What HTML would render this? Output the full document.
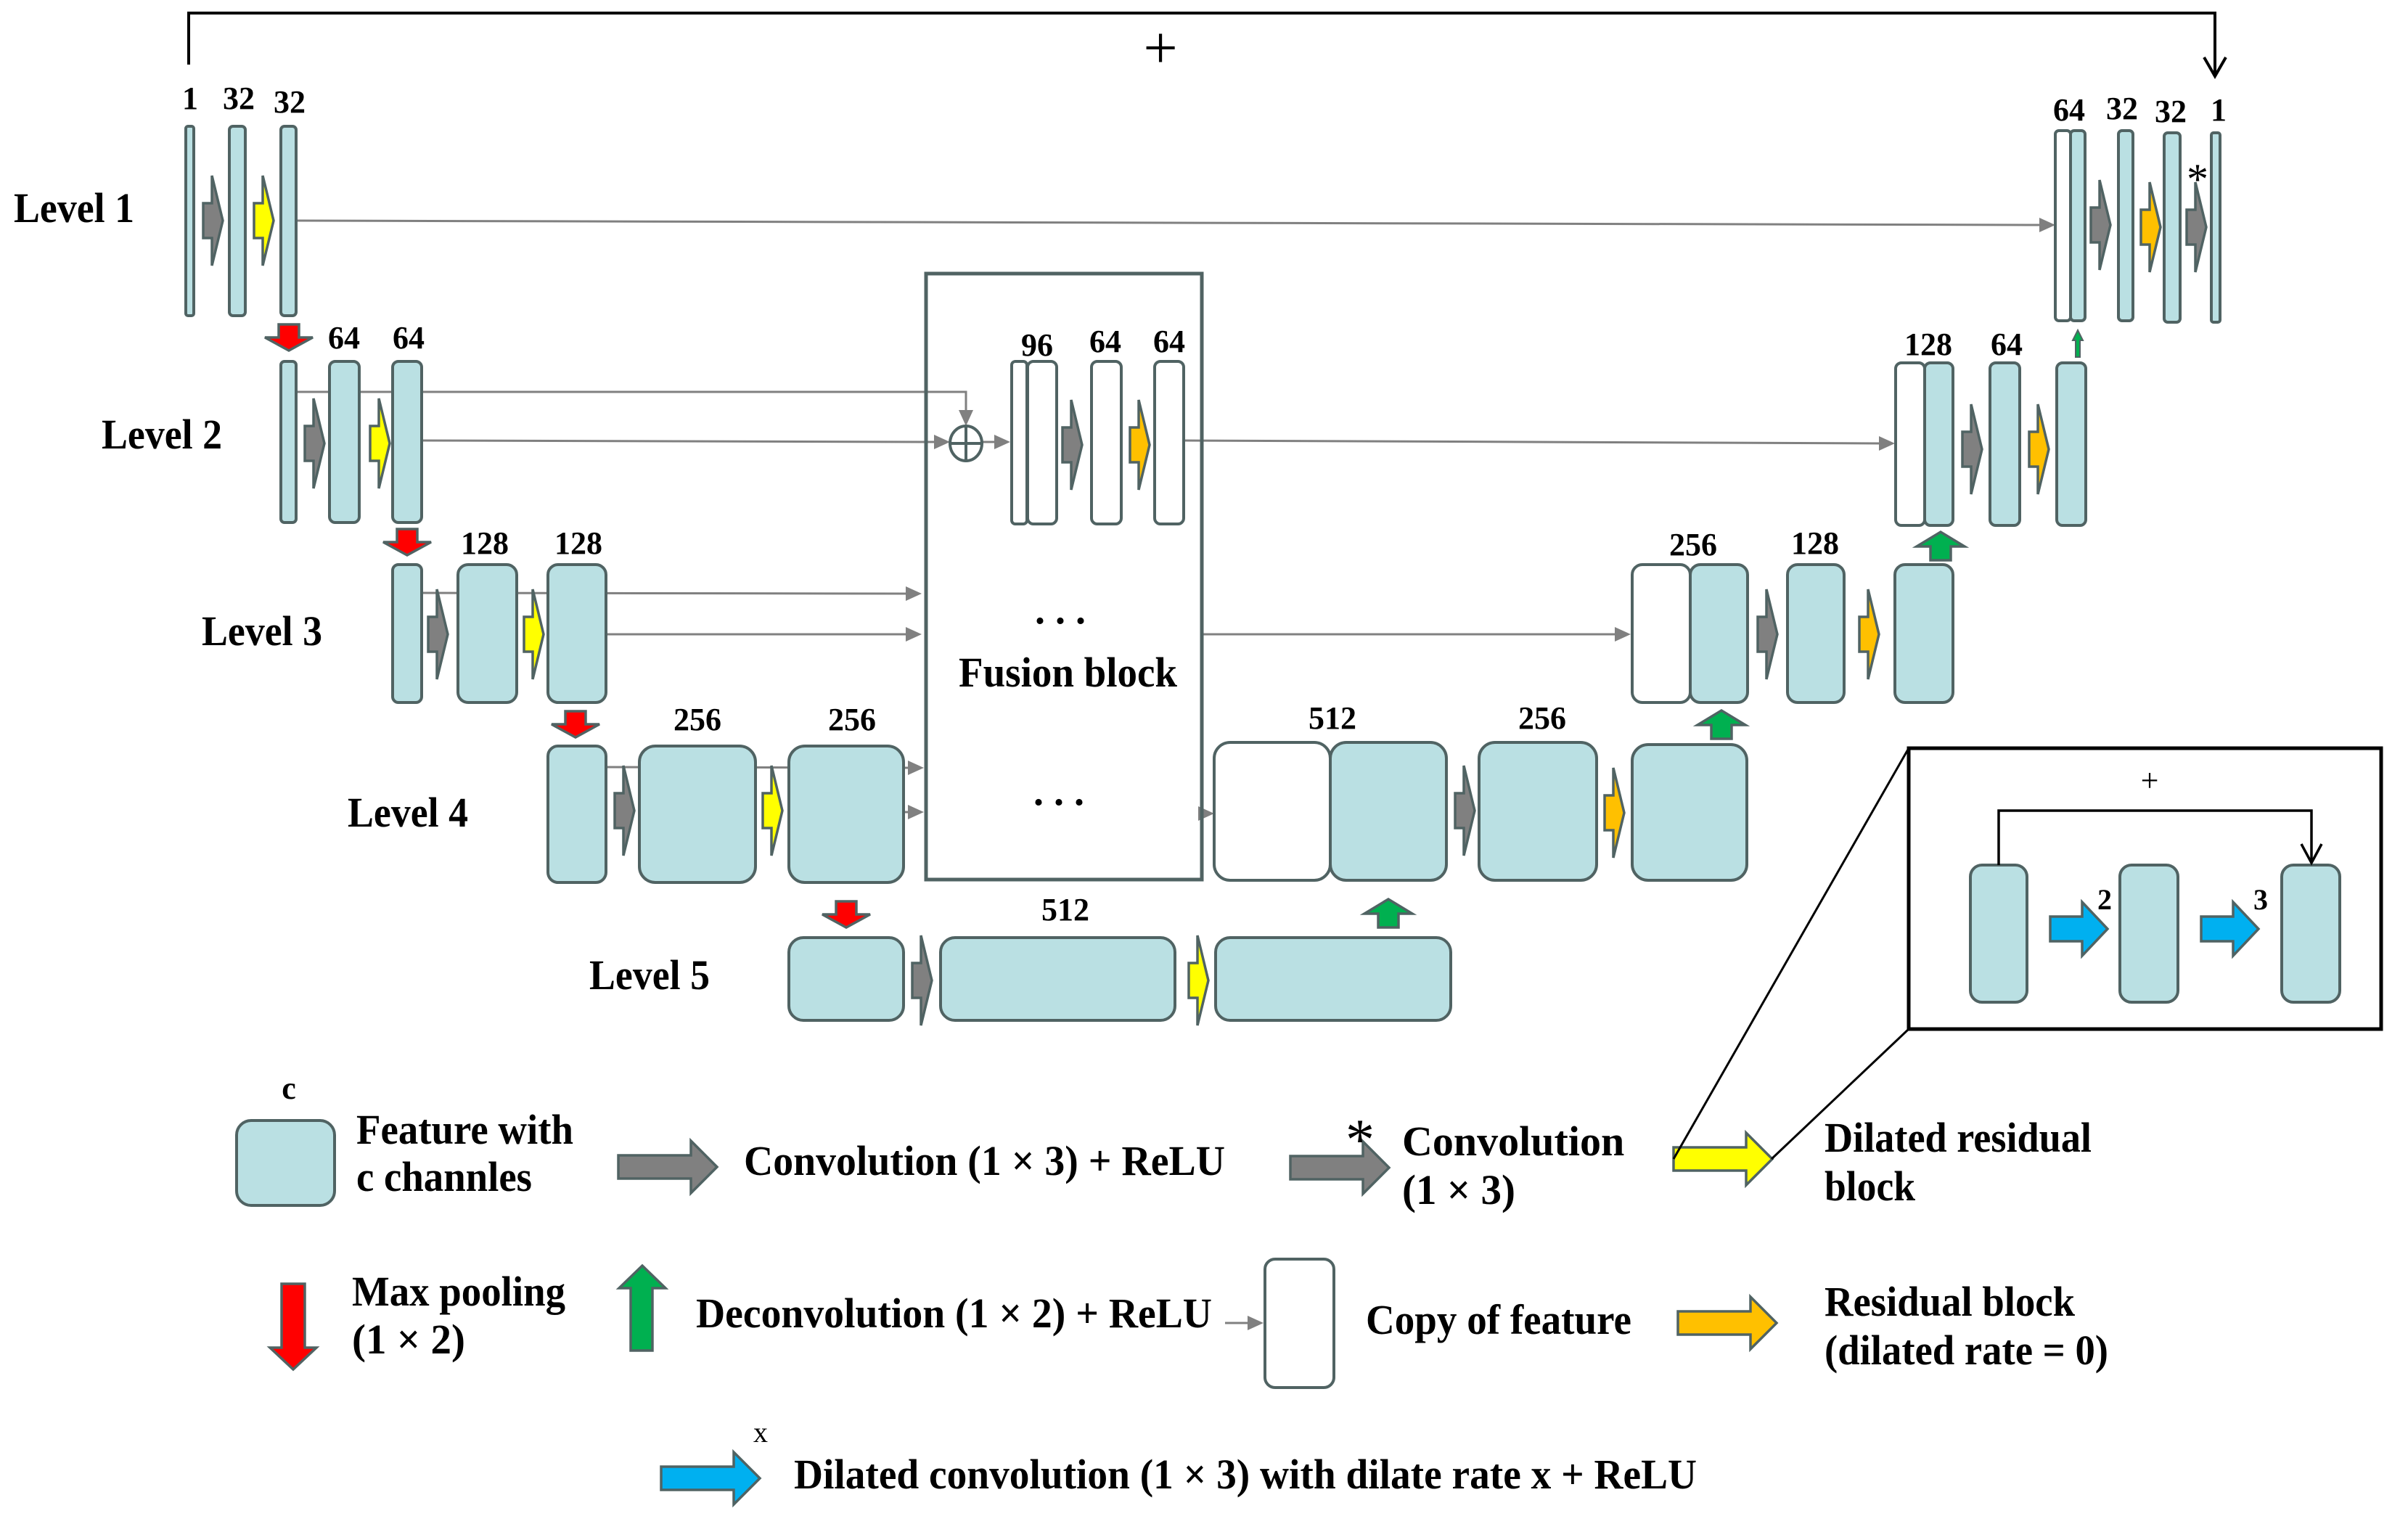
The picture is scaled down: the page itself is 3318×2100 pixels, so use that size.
<!DOCTYPE html>
<html><head><meta charset="utf-8">
<style>
html,body{margin:0;padding:0;background:#fff;}
svg{display:block;}
text{font-family:"Liberation Serif",serif;font-weight:bold;fill:#000;}
</style></head>
<body>
<svg width="3318" height="2100" viewBox="0 0 3318 2100" xmlns="http://www.w3.org/2000/svg">
<defs>
<path id="sa" d="M0,-24H12V-62L27,0L12,62V24H0Z"/>
<path id="dn" d="M-14,0H14V18H33L0,36L-33,18H-14Z"/>
<path id="up" d="M-14,0V-19H-33L0,-39L33,-19H14V0Z"/>
<path id="ba" d="M0,-16H100V-36L136,0L100,36V16H0Z"/>
<path id="bl" d="M0,-17H44V-37L79,0L44,37V17H0Z"/>
<path id="ah" d="M0,0L-22,-10L-22,10Z"/>
</defs>

<!-- top skip -->
<polyline points="260,89 260,18 3052,18 3052,105" fill="none" stroke="#000" stroke-width="4"/>
<polyline points="3037,79 3052,105 3067,79" fill="none" stroke="#000" stroke-width="4"/>
<text x="1599" y="94" font-size="84" text-anchor="middle" style="font-weight:normal">+</text>

<!-- gray connector lines -->
<g stroke="#808080" stroke-width="3" fill="none">
<line x1="408" y1="304" x2="2812" y2="310"/>
<polyline points="408,540 1331,540 1331,567"/>
<line x1="581" y1="607" x2="1290" y2="609"/>
<line x1="1353" y1="609" x2="1372" y2="609"/>
<line x1="1631" y1="607" x2="2591" y2="611"/>
<line x1="581" y1="817" x2="1250" y2="818"/>
<line x1="835" y1="874" x2="1250" y2="874"/>
<line x1="1656" y1="874" x2="2227" y2="874"/>
<line x1="835" y1="1057" x2="1253" y2="1058"/>
<line x1="1245" y1="1119" x2="1253" y2="1119"/>
<line x1="1688" y1="1823" x2="1721" y2="1823"/>
</g>
<g fill="#808080">
<use href="#ah" transform="translate(2832,310)"/>
<use href="#ah" transform="translate(1331,587) rotate(90)"/>
<use href="#ah" transform="translate(1309,609)"/>
<use href="#ah" transform="translate(1392,609)"/>
<use href="#ah" transform="translate(2611,611)"/>
<use href="#ah" transform="translate(1270,818)"/>
<use href="#ah" transform="translate(1270,874)"/>
<use href="#ah" transform="translate(2247,874)"/>
<use href="#ah" transform="translate(1273,1058)"/>
<use href="#ah" transform="translate(1273,1119)"/>
<use href="#ah" transform="translate(1673,1121)"/>
<use href="#ah" transform="translate(1741,1823)"/>
</g>
<!-- circle plus -->
<g stroke="#506363" stroke-width="4" fill="none">
<ellipse cx="1331" cy="611" rx="22" ry="24"/>
<line x1="1309" y1="611" x2="1353" y2="611"/>
<line x1="1331" y1="587" x2="1331" y2="635"/>
</g>

<!-- fusion block -->
<rect x="1276" y="377" width="380" height="835" fill="none" stroke="#506363" stroke-width="5"/>

<!-- teal feature bars -->
<g fill="#bae0e3" stroke="#506363" stroke-width="4">
<rect x="256" y="174" width="11" height="261" rx="3"/>
<rect x="316" y="174" width="22" height="261" rx="5"/>
<rect x="387" y="174" width="21" height="261" rx="5"/>
<rect x="387" y="498" width="21" height="222" rx="5"/>
<rect x="454" y="498" width="41" height="222" rx="8"/>
<rect x="541" y="498" width="40" height="222" rx="8"/>
<rect x="541" y="778" width="40" height="190" rx="8"/>
<rect x="631" y="778" width="81" height="190" rx="14"/>
<rect x="755" y="778" width="80" height="190" rx="14"/>
<rect x="755" y="1028" width="80" height="188" rx="14"/>
<rect x="881" y="1028" width="160" height="188" rx="22"/>
<rect x="1087" y="1028" width="158" height="188" rx="22"/>
<rect x="1087" y="1292" width="158" height="114" rx="20"/>
<rect x="1296" y="1292" width="323" height="114" rx="20"/>
<rect x="1675" y="1292" width="324" height="114" rx="20"/>
<rect x="1833" y="1023" width="160" height="190" rx="22"/>
<rect x="2038" y="1023" width="162" height="190" rx="22"/>
<rect x="2249" y="1026" width="158" height="187" rx="22"/>
<rect x="2329" y="778" width="79" height="190" rx="14"/>
<rect x="2463" y="778" width="78" height="190" rx="14"/>
<rect x="2611" y="778" width="80" height="190" rx="14"/>
<rect x="2652" y="500" width="39" height="224" rx="8"/>
<rect x="2742" y="500" width="41" height="224" rx="8"/>
<rect x="2834" y="500" width="40" height="224" rx="8"/>
<rect x="2853" y="180" width="20" height="262" rx="5"/>
<rect x="2919" y="180" width="20" height="262" rx="5"/>
<rect x="2982" y="183" width="22" height="261" rx="5"/>
<rect x="3047" y="183" width="12" height="261" rx="3"/>
<rect x="2715" y="1192" width="78" height="189" rx="16"/>
<rect x="2921" y="1192" width="80" height="189" rx="16"/>
<rect x="3144" y="1192" width="80" height="189" rx="16"/>
<rect x="326" y="1544" width="135" height="117" rx="20"/>
</g>
<!-- white copies -->
<g fill="#fff" stroke="#506363" stroke-width="4">
<rect x="1394" y="498" width="21" height="224" rx="5"/>
<rect x="1416" y="498" width="40" height="224" rx="8"/>
<rect x="1504" y="498" width="41" height="224" rx="8"/>
<rect x="1591" y="498" width="40" height="224" rx="8"/>
<rect x="1673" y="1023" width="160" height="190" rx="22"/>
<rect x="2249" y="778" width="80" height="190" rx="14"/>
<rect x="2612" y="500" width="40" height="224" rx="8"/>
<rect x="2832" y="180" width="21" height="262" rx="5"/>
<rect x="1743" y="1735" width="95" height="177" rx="14"/>
</g>

<!-- small arrows -->
<g stroke="#506363" stroke-width="3.5">
<use href="#sa" fill="#808080" transform="translate(280,304)"/>
<use href="#sa" fill="#ffff00" transform="translate(350,304)"/>
<use href="#sa" fill="#808080" transform="translate(420,611)"/>
<use href="#sa" fill="#ffff00" transform="translate(510,611)"/>
<use href="#sa" fill="#808080" transform="translate(590,874)"/>
<use href="#sa" fill="#ffff00" transform="translate(722,874)"/>
<use href="#sa" fill="#808080" transform="translate(847,1117)"/>
<use href="#sa" fill="#ffff00" transform="translate(1051,1117)"/>
<use href="#sa" fill="#808080" transform="translate(1257,1351)"/>
<use href="#sa" fill="#ffff00" transform="translate(1638,1351)"/>
<use href="#sa" fill="#808080" transform="translate(1464,613)"/>
<use href="#sa" fill="#ffc000" transform="translate(1557,613)"/>
<use href="#sa" fill="#808080" transform="translate(2005,1117)"/>
<use href="#sa" fill="#ffc000" transform="translate(2211,1120)"/>
<use href="#sa" fill="#808080" transform="translate(2422,874)"/>
<use href="#sa" fill="#ffc000" transform="translate(2562,874)"/>
<use href="#sa" fill="#808080" transform="translate(2704,619)"/>
<use href="#sa" fill="#ffc000" transform="translate(2796,619)"/>
<use href="#sa" fill="#808080" transform="translate(2881,310)"/>
<use href="#sa" fill="#ffc000" transform="translate(2950,313)"/>
<use href="#sa" fill="#808080" transform="translate(3013,313)"/>
<use href="#dn" fill="#ff0000" transform="translate(398,447)"/>
<use href="#dn" fill="#ff0000" transform="translate(561,729)"/>
<use href="#dn" fill="#ff0000" transform="translate(793,980)"/>
<use href="#dn" fill="#ff0000" transform="translate(1166,1242)"/>
<use href="#up" fill="#00b050" transform="translate(2674,772)"/>
<use href="#up" fill="#00b050" transform="translate(2372,1018)"/>
<use href="#up" fill="#00b050" transform="translate(1913,1278)"/>
<path d="M2860,492V469H2856L2863,455L2870,469H2866V492Z" fill="#00b050" stroke="#506363" stroke-width="2"/>
<!-- legend arrows -->
<use href="#ba" fill="#808080" transform="translate(852,1608)"/>
<use href="#ba" fill="#808080" transform="translate(1778,1609)"/>
<use href="#ba" fill="#ffff00" transform="translate(2306,1597)"/>
<use href="#ba" fill="#ffc000" transform="translate(2312,1823)"/>
<use href="#ba" fill="#00b0f0" transform="translate(911,2037)"/>
<path d="M388,1769H420V1857H436L404,1887L372,1857H388Z" fill="#ff0000"/>
<path d="M869,1861V1775H853L885,1744L917,1775H899V1861Z" fill="#00b050"/>
<use href="#bl" fill="#00b0f0" transform="translate(2825,1280)"/>
<use href="#bl" fill="#00b0f0" transform="translate(3033,1280)"/>
</g>

<!-- inset -->
<rect x="2630" y="1031" width="651" height="387" fill="none" stroke="#000" stroke-width="5"/>
<line x1="2306" y1="1597" x2="2630" y2="1031" stroke="#000" stroke-width="3"/>
<line x1="2441" y1="1597" x2="2630" y2="1418" stroke="#000" stroke-width="3"/>
<polyline points="2754,1192 2754,1117 3185,1117 3185,1189" fill="none" stroke="#000" stroke-width="3.5"/>
<polyline points="3171,1163 3185,1189 3199,1163" fill="none" stroke="#000" stroke-width="3.5"/>
<text x="2962" y="1090" font-size="44" text-anchor="middle" style="font-weight:normal">+</text>

<!-- level labels -->
<g font-size="58">
<text x="19" y="306" textLength="166" lengthAdjust="spacingAndGlyphs">Level 1</text>
<text x="140" y="618" textLength="166" lengthAdjust="spacingAndGlyphs">Level 2</text>
<text x="278" y="889" textLength="166" lengthAdjust="spacingAndGlyphs">Level 3</text>
<text x="479" y="1139" textLength="166" lengthAdjust="spacingAndGlyphs">Level 4</text>
<text x="812" y="1363" textLength="166" lengthAdjust="spacingAndGlyphs">Level 5</text>
</g>
<!-- numbers -->
<g font-size="44" text-anchor="middle">
<text x="262" y="150">1</text>
<text x="329" y="150">32</text>
<text x="399" y="155">32</text>
<text x="474" y="480">64</text>
<text x="563" y="480">64</text>
<text x="668" y="763">128</text>
<text x="797" y="763">128</text>
<text x="961" y="1006">256</text>
<text x="1174" y="1006">256</text>
<text x="1429" y="490">96</text>
<text x="1523" y="485">64</text>
<text x="1611" y="485">64</text>
<text x="1836" y="1004">512</text>
<text x="2125" y="1004">256</text>
<text x="1468" y="1268">512</text>
<text x="2851" y="166">64</text>
<text x="2924" y="164">32</text>
<text x="2991" y="168">32</text>
<text x="3057" y="166">1</text>
<text x="2657" y="489">128</text>
<text x="2765" y="489">64</text>
<text x="2333" y="765">256</text>
<text x="2501" y="763">128</text>
<text x="398" y="1514">c</text>
<text x="2900" y="1253" font-size="40">2</text>
<text x="3115" y="1253" font-size="40">3</text>
</g>
<text x="3028" y="267" font-size="60" text-anchor="middle" style="font-weight:normal">*</text>
<text x="1874" y="1597" font-size="80" text-anchor="middle" style="font-weight:normal">*</text>
<text x="1461" y="859" font-size="56" text-anchor="middle">. . .</text>
<text x="1459" y="1109" font-size="56" text-anchor="middle">. . .</text>
<text x="1321" y="946" font-size="58" textLength="301" lengthAdjust="spacingAndGlyphs">Fusion block</text>

<!-- legend text -->
<g font-size="58">
<text x="491" y="1576" textLength="299" lengthAdjust="spacingAndGlyphs">Feature with</text>
<text x="491" y="1641" textLength="242" lengthAdjust="spacingAndGlyphs">c channles</text>
<text x="1025" y="1619" textLength="663" lengthAdjust="spacingAndGlyphs">Convolution (1 × 3) + ReLU</text>
<text x="1932" y="1592">Convolution</text>
<text x="1932" y="1659" textLength="156" lengthAdjust="spacingAndGlyphs">(1 × 3)</text>
<text x="2514" y="1587" textLength="368" lengthAdjust="spacingAndGlyphs">Dilated residual</text>
<text x="2514" y="1654" textLength="125" lengthAdjust="spacingAndGlyphs">block</text>
<text x="485" y="1799" textLength="294" lengthAdjust="spacingAndGlyphs">Max pooling</text>
<text x="485" y="1865" textLength="156" lengthAdjust="spacingAndGlyphs">(1 × 2)</text>
<text x="959" y="1829" textLength="711" lengthAdjust="spacingAndGlyphs">Deconvolution (1 × 2) + ReLU</text>
<text x="1882" y="1838" textLength="366" lengthAdjust="spacingAndGlyphs">Copy of feature</text>
<text x="2514" y="1813" textLength="345" lengthAdjust="spacingAndGlyphs">Residual block</text>
<text x="2514" y="1880" textLength="391" lengthAdjust="spacingAndGlyphs">(dilated rate = 0)</text>
<text x="1094" y="2051" textLength="1244" lengthAdjust="spacingAndGlyphs">Dilated convolution (1 × 3) with dilate rate x + ReLU</text>
</g>
<text x="1048" y="1987" font-size="40" text-anchor="middle" style="font-weight:normal">x</text>
</svg>
</body></html>
